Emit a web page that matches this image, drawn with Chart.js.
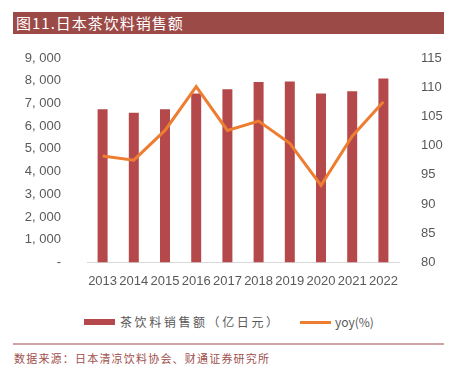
<!DOCTYPE html>
<html>
<head>
<meta charset="utf-8">
<script src="https://cdn.jsdelivr.net/npm/chart.js@4"></script>
<style>
  body { margin: 0; background: #fff; width: 454px; height: 370px; position: relative; overflow: hidden; }
  #titleBar { position: absolute; left: 13px; top: 12px; width: 431px; height: 22px; background: #9C4A47;
    color: #fff; font: 15px "Noto Sans CJK SC"; line-height: 22px; padding-left: 3px; box-sizing: border-box; letter-spacing: 1px; }
  #wrap { position: absolute; left: 0; top: 0; width: 454px; height: 292px; }
  #legend { position: absolute; left: 0; top: 312px; width: 454px; height: 20px; font: 12px "Noto Sans CJK SC"; color: #595959; }
  .item { position: absolute; top: 0; height: 20px; line-height: 20px; white-space: nowrap; }
  .swatch { position: absolute; top: 7px; width: 31px; }
  #bottomLine { position: absolute; left: 13px; top: 343px; width: 431px; height: 2px; background: #CFA3A1; }
  #source { position: absolute; left: 14px; top: 350px; font: 11px "Noto Sans CJK SC"; color: #A0504D; letter-spacing: 1.2px; }
</style>
</head>
<body>
<div id="titleBar">图11.日本茶饮料销售额</div>
<div id="wrap"><canvas id="chart"></canvas></div>
<div id="legend"></div>
<div id="bottomLine"></div>
<div id="source">数据来源：日本清凉饮料协会、财通证券研究所</div>
<script>
const years = ['2013', '2014', '2015', '2016', '2017', '2018', '2019', '2020', '2021', '2022'];
const sales = [6740, 6590, 6740, 7440, 7620, 7940, 7970, 7440, 7540, 8100];
const yoy = [98.2, 97.5, 102.6, 110.1, 102.6, 104.2, 100.4, 93.2, 101.6, 107.5];
const salesLabel = '茶饮料销售额（亿日元）';
const yoyLabel = 'yoy(%)';

const barColor = '#B5484A';
const lineColor = '#ED7D31';
const tickFont = { family: 'Liberation Sans', size: 13 };

const chart = new Chart(document.getElementById('chart'), {
    data: {
        labels: years,
        datasets: [{
            type: 'line',
            label: yoyLabel,
            data: yoy,
            yAxisID: 'y1',
            borderColor: lineColor,
            borderWidth: 3,
            pointRadius: 0,
            tension: 0
        }, {
            type: 'bar',
            label: salesLabel,
            data: sales,
            yAxisID: 'y',
            backgroundColor: barColor,
            categoryPercentage: 1,
            barPercentage: 0.32
        }]
    },
    options: {
        responsive: true,
        maintainAspectRatio: false,
        animation: false,
        layout: { padding: { left: 0, right: 0, top: 58, bottom: 0 } },
        plugins: { legend: { display: false }, tooltip: { enabled: false } },
        scales: {
            x: {
                grid: { display: false },
                border: { color: '#D9D9D9' },
                ticks: { color: '#595959', font: tickFont, padding: 3, minRotation: 0, maxRotation: 0, autoSkip: false }
            },
            y: {
                position: 'left',
                min: 0, max: 9000,
                grid: { display: false },
                border: { display: false },
                afterFit: s => { s.width = 87; },
                ticks: {
                    stepSize: 1000,
                    color: '#595959',
                    font: tickFont,
                    padding: 18,
                    callback: v => v === 0 ? '-' : Math.floor(v / 1000) + ', 000'
                }
            },
            y1: {
                position: 'right',
                min: 80, max: 115,
                grid: { display: false },
                border: { display: false },
                afterFit: s => { s.width = 55; },
                ticks: { stepSize: 5, color: '#595959', font: tickFont, padding: 14 }
            }
        }
    }
});

// legend built from the datasets
const legend = document.getElementById('legend');
const items = [
    { label: salesLabel, color: barColor, h: 6, x: 84, tx: 120, spacing: '2.6px' },
    { label: yoyLabel, color: lineColor, h: 3, x: 300, tx: 335, spacing: '0px' }
];
items.forEach(it => {
    const sw = document.createElement('div');
    sw.className = 'swatch';
    sw.style.left = it.x + 'px';
    sw.style.height = it.h + 'px';
    sw.style.top = (10 - it.h / 2) + 'px';
    sw.style.background = it.color;
    legend.appendChild(sw);
    const t = document.createElement('div');
    t.className = 'item';
    t.style.left = it.tx + 'px';
    t.style.letterSpacing = it.spacing;
    t.textContent = it.label;
    legend.appendChild(t);
});
</script>
</body>
</html>
